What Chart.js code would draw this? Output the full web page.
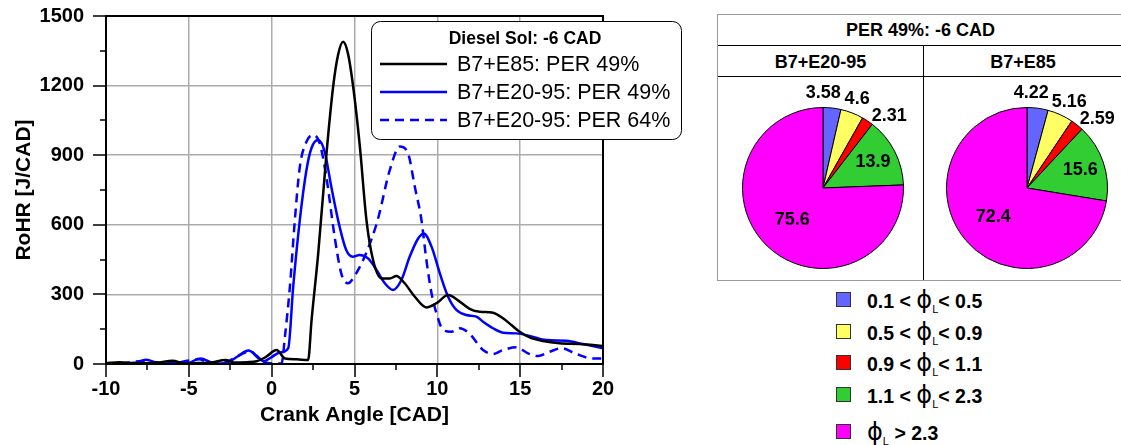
<!DOCTYPE html>
<html>
<head>
<meta charset="utf-8">
<script src="https://cdn.jsdelivr.net/npm/chart.js@4.4.1/dist/chart.umd.min.js"></script>
<style>
  html, body { margin: 0; padding: 0; background: #fff; }
  body { width: 1121px; height: 445px; position: relative; overflow: hidden;
         font-family: 'Liberation Sans', Arial, sans-serif; }
  #rohr { position: absolute; left: 0; top: 0; }
  .tbl { position: absolute; left: 717px; top: 14px; width: 410px; height: 267px;
         border: 1px solid #9a9a9a; border-right: none; box-sizing: border-box; }
  .cell { position: absolute; font-weight: bold; font-size: 18px; text-align: center; }
  .hline { position: absolute; left: 0; right: 0; height: 0; border-top: 1.5px solid #000; }
  .vline { position: absolute; top: 31px; bottom: 0; width: 0; border-left: 1px solid #000; left: 205px; }
  #pieA { position: absolute; left: 718px; top: 76px; }
  #pieB { position: absolute; left: 923px; top: 76px; }
  .key { position: absolute; left: 836px; font-weight: bold; font-size: 19.5px; white-space: nowrap; }
  .key i { position: absolute; left: 0; width: 13px; height: 13px; border: 1px solid #333; }
  .key span.t { position: absolute; left: 31px; top: -13px; }
  .phi { font-family: 'DejaVu Sans', sans-serif; font-weight: normal; font-size: 24px; }
  .sub { font-weight: normal; font-size: 11px; position: relative; top: 5px; }
</style>
</head>
<body>
<canvas id="rohr" width="710" height="445"></canvas>

<div class="tbl">
  <div class="cell" style="left:0;width:405px;top:5px;">PER 49%: -6 CAD</div>
  <div class="hline" style="top:30px;"></div>
  <div class="cell" style="left:0;width:205px;top:37px;">B7+E20-95</div>
  <div class="cell" style="left:205px;width:200px;top:37px;">B7+E85</div>
  <div class="hline" style="top:61px;"></div>
  <div class="vline"></div>
</div>
<canvas id="pieA" width="205" height="205"></canvas>
<canvas id="pieB" width="198" height="205"></canvas>
<div id="keys"></div>

<script>
// crank angle [CAD] and heat release rate [J/CAD] per fuel / premixed ratio
const e85Cad  = [-10, -9.2, -8.4, -7.6, -6.8, -6.0, -5.2, -4.4, -3.6, -2.8, -2.2, -1.5, -0.9, -0.4, 0.3, 0.8, 1.5, 2.2, 2.41, 2.81,
                 3.31, 3.71, 4.0, 4.31, 4.6, 4.92, 5.32, 5.72, 6.12, 6.63, 7.13, 7.53, 8.03, 8.64, 9.34, 9.95, 10.65, 11.35, 11.95, 12.56,
                 13.36, 13.96, 14.47, 14.97, 15.57, 16.38, 17.38, 18.59, 20];
const e85Rohr = [3, 8, 4, 3, 7, 14, 2, 4, 7, 17, 6, 8, 12, 28, 60, 24, 20, 17, 190, 477,
                 908, 1195, 1330, 1389, 1340, 1195, 940, 621, 448, 369, 369, 379, 348, 290, 244, 262, 297, 269, 238, 225,
                 221, 197, 168, 139, 115, 99, 89, 86, 78];

const e2095Cad49  = [-10, -9.0, -8.2, -7.6, -7.0, -6.3, -5.6, -5.1, -4.3, -3.6, -3.1, -2.6, -2.1, -1.4, -0.9, -0.5, 0, 0.5, 1.0, 1.3,
                     1.7, 2.1, 2.4, 2.8, 3.2, 3.6, 4.1, 4.5, 4.9, 5.3, 5.82, 6.33, 6.83, 7.33, 7.83, 8.33, 8.84, 9.18, 9.65, 10.15,
                     10.65, 11.15, 11.75, 12.36, 12.76, 13.36, 13.96, 14.77, 15.57, 16.58, 17.79, 18.79, 20];
const e2095Rohr49 = [3, 2, 5, 18, 8, 2, 6, 4, 24, 6, 2, 8, 30, 58, 35, 12, 30, 50, 68, 333,
                     621, 836, 930, 965, 915, 764, 592, 491, 462, 470, 455, 405, 348, 319, 362, 462, 541, 563, 506, 391,
                     290, 233, 211, 204, 182, 154, 135, 132, 121, 103, 100, 86, 68];

const e2095Cad64  = [-10, -9.0, -8.3, -7.7, -7.0, -6.0, -5.1, -4.4, -3.7, -2.7, -2.0, -1.3, -0.8, -0.3, 0.3, 0.6, 0.8, 1.1, 1.4, 1.7,
                     2.1, 2.5, 2.9, 3.3, 3.8, 4.2, 4.6, 5.1, 5.7, 6.4, 7.13, 7.73, 8.23, 8.64, 9.04, 9.34, 9.65, 9.95, 10.35, 10.85,
                     11.35, 11.95, 12.76, 13.36, 13.96, 14.77, 15.47, 16.08, 16.78, 17.49, 18.39, 19.39, 20];
const e2095Rohr64 = [0, 3, 10, 14, 4, 2, 14, 20, 4, 10, 36, 55, 25, 5, 2, 3, 118, 333, 621, 850,
                     958, 987, 951, 807, 549, 391, 348, 391, 477, 621, 836, 937, 908, 764, 621, 448, 305, 218, 147, 139,
                     154, 130, 60, 43, 60, 72, 46, 34, 53, 68, 43, 24, 24];

const seriesNames = ['B7+E85: PER 49%', 'B7+E20-95: PER 49%', 'B7+E20-95: PER 64%'];

// equivalence ratio bins and mass share [%] for each fuel
const phiBins    = ['0.1 < ϕL< 0.5', '0.5 < ϕL< 0.9', '0.9 < ϕL< 1.1', '1.1 < ϕL< 2.3', 'ϕL > 2.3'];
const e2095Share = [3.58, 4.6, 2.31, 13.9, 75.6];
const e85Share   = [4.22, 5.16, 2.59, 15.6, 72.4];
const binColors  = ['#6464ff', '#ffff64', '#ff0000', '#32cd32', '#ff00ff'];

Chart.defaults.font.family = "'Liberation Sans', Arial, sans-serif";
Chart.defaults.color = '#000';

const pts = (xs, ys) => xs.map((x, i) => ({ x: x, y: ys[i] }));

// box around the plot plus long/short tick marks
const frame = {
    id: 'frame',
    afterDraw(chart) {
        const { ctx, chartArea: a, scales: { x, y } } = chart;
        ctx.save();
        ctx.strokeStyle = '#000';
        ctx.lineWidth = 2;
        ctx.strokeRect(a.left, a.top, a.right - a.left, a.bottom - a.top);
        ctx.lineWidth = 1.5;
        ctx.beginPath();
        y.ticks.forEach(t => {
            const py = Math.round(y.getPixelForValue(t.value));
            const len = t.value % 300 === 0 ? 13 : 6;
            ctx.moveTo(a.left - len, py); ctx.lineTo(a.left, py);
        });
        x.ticks.forEach(t => {
            const px = Math.round(x.getPixelForValue(t.value));
            const len = t.value % 5 === 0 ? 13 : 6;
            ctx.moveTo(px, a.bottom); ctx.lineTo(px, a.bottom + len);
        });
        ctx.stroke();
        ctx.restore();
    }
};

// legend box in the top right of the plot
const boxLegend = {
    id: 'boxLegend',
    afterDraw(chart) {
        const { ctx, chartArea: a } = chart;
        const left = a.left + 265, top = a.top + 5, w = 310, h = 118;
        ctx.save();
        ctx.fillStyle = '#fff';
        ctx.strokeStyle = '#000';
        ctx.lineWidth = 1;
        ctx.beginPath();
        ctx.roundRect(left + 0.5, top + 0.5, w, h, 9);
        ctx.fill();
        ctx.stroke();
        ctx.fillStyle = '#000';
        ctx.textBaseline = 'middle';
        ctx.textAlign = 'center';
        ctx.font = "bold 17.5px 'Liberation Sans', Arial";
        ctx.fillText('Diesel Sol: -6 CAD', left + 154, top + 18);
        ctx.textAlign = 'left';
        ctx.font = "21.5px 'Liberation Sans', Arial";
        chart.data.datasets.forEach((ds, i) => {
            const ry = top + 43 + i * 28;
            ctx.strokeStyle = ds.borderColor;
            ctx.lineWidth = ds.borderWidth;
            ctx.setLineDash(ds.borderDash || []);
            ctx.beginPath();
            ctx.moveTo(left + 9, ry);
            ctx.lineTo(left + 76, ry);
            ctx.stroke();
            ctx.setLineDash([]);
            ctx.fillText(ds.label, left + 86, ry + 1);
        });
        ctx.restore();
    }
};

new Chart(document.getElementById('rohr'), {
    type: 'line',
    data: {
        datasets: [
            { label: seriesNames[0], data: pts(e85Cad, e85Rohr), borderColor: '#000000', borderWidth: 2.5 },
            { label: seriesNames[1], data: pts(e2095Cad49, e2095Rohr49), borderColor: '#0000ff', borderWidth: 2.5 },
            { label: seriesNames[2], data: pts(e2095Cad64, e2095Rohr64), borderColor: '#0000ff', borderWidth: 2.5, borderDash: [9, 6] },
        ]
    },
    options: {
        responsive: false,
        animation: false,
        parsing: false,
        layout: { padding: { top: 16, right: 107, left: 0, bottom: 0 } },
        elements: {
            point: { radius: 0 },
            line: { cubicInterpolationMode: 'monotone', fill: false }
        },
        scales: {
            x: {
                type: 'linear',
                min: -10, max: 20,
                border: { color: '#000', width: 2 },
                grid: {
                    drawTicks: false,
                    lineWidth: 1.5,
                    color: c => c.tick && c.tick.value % 5 === 0 ? '#ababab' : 'rgba(0,0,0,0)'
                },
                ticks: {
                    stepSize: 2.5,
                    autoSkip: false,
                    maxRotation: 0,
                    padding: 13,
                    font: { size: 20, weight: 'bold' },
                    callback: v => v % 5 === 0 ? v : ''
                },
                title: {
                    display: true,
                    text: 'Crank Angle [CAD]',
                    font: { size: 21, weight: 'bold' },
                    padding: { top: 0, bottom: 17 }
                },
                afterFit: s => { s.height = 81; }
            },
            y: {
                min: 0, max: 1500,
                border: { color: '#000', width: 2 },
                grid: {
                    drawTicks: false,
                    lineWidth: 1.5,
                    color: c => c.tick && c.tick.value % 300 === 0 ? '#ababab' : 'rgba(0,0,0,0)'
                },
                ticks: {
                    stepSize: 150,
                    autoSkip: false,
                    padding: 22,
                    font: { size: 20, weight: 'bold' },
                    callback: v => v % 300 === 0 ? v : ''
                },
                title: {
                    display: true,
                    text: 'RoHR [J/CAD]',
                    font: { size: 21, weight: 'bold' },
                    padding: { top: 12, bottom: 0 }
                },
                // fixed axis width; the label padding must not push the plot down
                afterFit: s => { s.width = 106; s.paddingTop = 0; s.paddingBottom = 0; }
            }
        },
        plugins: {
            legend: { display: false },
            tooltip: { enabled: false }
        }
    },
    plugins: [frame, boxLegend]
});

// slice values: big slices inside, small ones just outside the rim
const sliceLabels = {
    id: 'sliceLabels',
    afterDatasetsDraw(chart) {
        const { ctx } = chart;
        const meta = chart.getDatasetMeta(0);
        const values = chart.data.datasets[0].data;
        ctx.save();
        ctx.font = "bold 18px 'Liberation Sans', Arial";
        ctx.fillStyle = '#000';
        ctx.textAlign = 'center';
        ctx.textBaseline = 'middle';
        const outside = [];
        meta.data.forEach((arc, i) => {
            const { x, y, startAngle, endAngle, outerRadius } = arc.getProps(['x', 'y', 'startAngle', 'endAngle', 'outerRadius'], true);
            const mid = (startAngle + endAngle) / 2;
            const text = String(values[i]);
            if (values[i] >= 10) {
                const r = outerRadius * (values[i] > 50 ? 0.55 : 0.7);
                ctx.fillText(text, x + Math.cos(mid) * r, y + Math.sin(mid) * r);
            } else {
                outside.push({ text, x, y, r: outerRadius, ang: mid, w: ctx.measureText(text).width, h: 17 });
            }
        });
        const place = o => {
            const dx = Math.cos(o.ang), dy = Math.sin(o.ang);
            o.cx = o.x + dx * (o.r + 4) + dx * o.w / 2;
            o.cy = o.y + dy * (o.r + 6) + dy * o.h / 2;
        };
        const hit = (a, b) => Math.abs(a.cx - b.cx) < (a.w + b.w) / 2 + 2 && Math.abs(a.cy - b.cy) < (a.h + b.h) / 2;
        outside.forEach(place);
        // spread neighbouring labels apart until they no longer touch
        for (let n = 0; n < 200; n++) {
            let moved = false;
            for (let i = 1; i < outside.length; i++) {
                if (hit(outside[i - 1], outside[i])) {
                    outside[i - 1].ang -= 0.01;
                    outside[i].ang += 0.01;
                    place(outside[i - 1]); place(outside[i]);
                    moved = true;
                }
            }
            if (!moved) break;
        }
        outside.forEach(o => ctx.fillText(o.text, o.cx, o.cy));
        ctx.restore();
    }
};

const pieOptions = pad => ({
    responsive: false,
    animation: false,
    layout: { padding: pad },
    plugins: { legend: { display: false }, tooltip: { enabled: false } }
});

new Chart(document.getElementById('pieA'), {
    type: 'pie',
    data: { labels: phiBins, datasets: [{ data: e2095Share, backgroundColor: binColors, borderColor: '#000', borderWidth: 1 }] },
    options: pieOptions({ left: 24, right: 19, top: 31, bottom: 12 }),
    plugins: [sliceLabels]
});

new Chart(document.getElementById('pieB'), {
    type: 'pie',
    data: { labels: phiBins, datasets: [{ data: e85Share, backgroundColor: binColors, borderColor: '#000', borderWidth: 1 }] },
    options: pieOptions({ left: 23, right: 13, top: 31, bottom: 12 }),
    plugins: [sliceLabels]
});

// colour key under the pies, phi written with a subscript L
const keys = document.getElementById('keys');
const rowTops = [299, 331, 362, 394, 431];
phiBins.forEach((bin, i) => {
    const parts = bin.split('ϕL');
    const row = document.createElement('div');
    row.className = 'key';
    row.style.top = rowTops[i] + 'px';
    row.innerHTML = '<i style="top:-7px;background:' + binColors[i] + '"></i>' +
        '<span class="t">' + parts[0] + '<span class="phi">ϕ</span><span class="sub">L</span>' + parts[1] + '</span>';
    keys.appendChild(row);
});
</script>
</body>
</html>
